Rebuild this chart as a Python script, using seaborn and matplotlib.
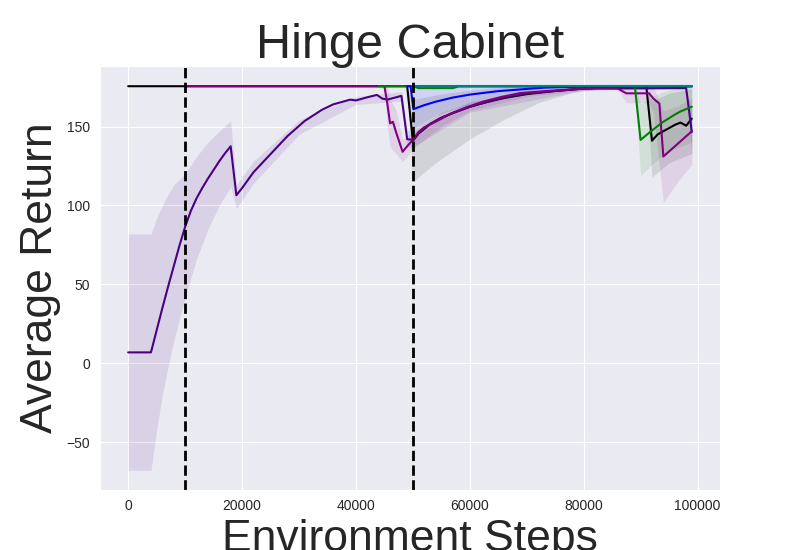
import numpy as np
import seaborn as sns
import matplotlib
matplotlib.use('Agg')
import matplotlib.pyplot as plt

# black
bk_x = [0, 49000, 50000, 51000, 53000, 55000, 57000, 60000, 63000, 66000, 70000, 75000,
        80000, 85000, 91000, 92000, 93000, 95000, 96000, 97000, 98000, 99000]
bk_y = [175.5, 175.5, 141, 145.5, 151.5, 155.5, 158.5, 162.5, 165.5, 168, 170.5, 172.5,
        174, 175, 175.5, 141, 145, 149, 151, 152.5, 150.5, 155]
bk_band_x = [49000, 50000, 54000, 60000, 66000, 72000, 78000, 85000, 91000, 92000, 95000, 99000]
bk_lo = [175.5, 115, 127, 142, 154.5, 165, 171.5, 174.5, 175.5, 118, 127, 133]
bk_hi = [175.5, 167, 170, 173, 175, 175.5, 175.5, 175.5, 175.5, 166, 171, 174]

# indigo
in_x = [0, 4000, 5000, 6000, 7000, 8000, 9000, 10000, 11000, 12000, 13000, 14000, 15000,
        16000, 17000, 18000, 19000, 20000, 22000, 25000, 28000, 31000, 34000, 36000, 39000,
        40000, 42000, 43700, 44600, 45500, 48000, 49000, 50000, 51000, 53000, 55000, 57000,
        60000, 63000, 66000, 70000, 75000, 80000, 98000, 99000]
in_y = [7, 7, 21, 35, 48.5, 61.5, 74.5, 86.5, 96.5, 104.5, 111, 117, 122.5,
        128, 133, 137.5, 106.5, 111, 121, 132.5, 144, 153.5, 160.5, 164, 167,
        166.5, 168.5, 170, 167.7, 167, 169.4, 142, 141.5, 146, 151.5, 155.5, 158.5,
        162.5, 165.5, 168.5, 171, 172.5, 174, 174.3, 146.5]
in_band_x = [0, 4000, 5000, 6000, 7000, 8000, 10000, 12000, 14000, 16000, 18000, 19000,
             22000, 30000, 40000, 48000, 49000, 50000, 60000, 80000, 98000, 99000]
in_lo = [-67.6, -67.6, -42, -20, -2, 14, 42, 66, 85, 100, 112, 98,
         114, 145, 164, 166, 137, 137, 159, 173, 174, 131]
in_hi = [82, 82, 92, 100, 107, 113, 120, 131, 140, 147, 153.6, 113,
         128, 154, 169, 172, 148, 146, 166, 175, 175, 160]

# purple
mg_x = [10000, 45000, 45500, 46000, 46500, 47000, 48200, 49000, 50000, 51000, 52000, 54000,
        56600, 59500, 62400, 65400, 68900, 73000, 79000, 82000, 86000, 87500, 91500, 92300,
        93300, 94000, 96500, 99000]
mg_y = [175.5, 175.5, 165, 152, 153, 147, 134, 137.5, 141.5, 146.5, 149.5, 153,
        158, 162.3, 165.8, 168.6, 171.2, 172.3, 173.8, 174.3, 174, 171, 171, 167.5,
        164.5, 131, 139, 147]
mg_band_x = [45000, 45500, 46000, 47000, 48200, 49000, 50000, 55000, 60000, 70000, 80000,
             86000, 87500, 91500, 92300, 94000, 96500, 99000]
mg_lo = [175.5, 150, 137, 133, 128, 131, 136, 150, 160, 169, 173,
         173.5, 165, 165, 158, 102, 115, 126]
mg_hi = [175.5, 176, 167, 161, 142, 144, 147, 159, 165, 173, 175,
         175, 175, 175, 175, 160, 163, 168]

# green
gr_x = [44000, 50000, 51000, 57000, 58000, 89000, 90000, 92000, 94000, 96000, 97000, 99000]
gr_y = [175.5, 175.5, 174.3, 174.3, 175.3, 175.3, 141.5, 147.5, 153, 157.5, 159.5, 162.5]
gr_band_x = [89000, 90000, 92000, 94000, 96000, 99000]
gr_lo = [175.3, 119, 126, 132, 136, 140]
gr_hi = [175.3, 164, 169, 172, 174, 175.5]

# blue
bl_x = [49000, 49600, 50100, 52000, 54000, 57000, 60000, 65000, 69000, 73000, 80000, 99000]
bl_y = [175.5, 175.5, 161, 163.5, 165.7, 168.3, 170.2, 172.4, 173.5, 174.6, 175.3, 175.3]
bl_band_x = [49600, 50100, 54000, 60000, 65000, 70000, 75000, 80000]
bl_lo = [175.5, 148.6, 157, 164.4, 168.6, 171.5, 173.5, 175]
bl_hi = [175.5, 175.5, 175.5, 175.5, 175.5, 175.5, 175.5, 175.5]

# teal
tl_x = [50000, 99000]
tl_y = [175.5, 175.5]

task_switches = [10000, 50000]

sns.set_style('darkgrid')
plt.rcParams['font.family'] = ['Liberation Sans', 'DejaVu Sans']

fig, ax = plt.subplots(figsize=(8, 5.5), dpi=100)

series = [
    (bk_x, bk_y, bk_band_x, bk_lo, bk_hi, 'black'),
    (in_x, in_y, in_band_x, in_lo, in_hi, 'indigo'),
    (mg_x, mg_y, mg_band_x, mg_lo, mg_hi, 'purple'),
    (gr_x, gr_y, gr_band_x, gr_lo, gr_hi, 'green'),
    (bl_x, bl_y, bl_band_x, bl_lo, bl_hi, 'blue'),
    (tl_x, tl_y, None, None, None, 'teal'),
]

for x, y, bx, lo, hi, c in series:
    if bx is not None:
        ax.fill_between(bx, lo, hi, color=c, alpha=0.1, linewidth=0)
    sns.lineplot(x=x, y=y, color=c, linewidth=1.5, ax=ax, sort=False)

for s in task_switches:
    ax.axvline(s, color='black', linestyle='--', linewidth=2)

ax.set_xlim(-4950, 103950)
ax.set_ylim(-79.8, 188.3)
ax.set_title('Hinge Cabinet', fontsize=35)
ax.set_xlabel('Environment Steps', fontsize=32)
ax.set_ylabel('Average Return', fontsize=32)

plt.savefig('out.png', dpi=100)
